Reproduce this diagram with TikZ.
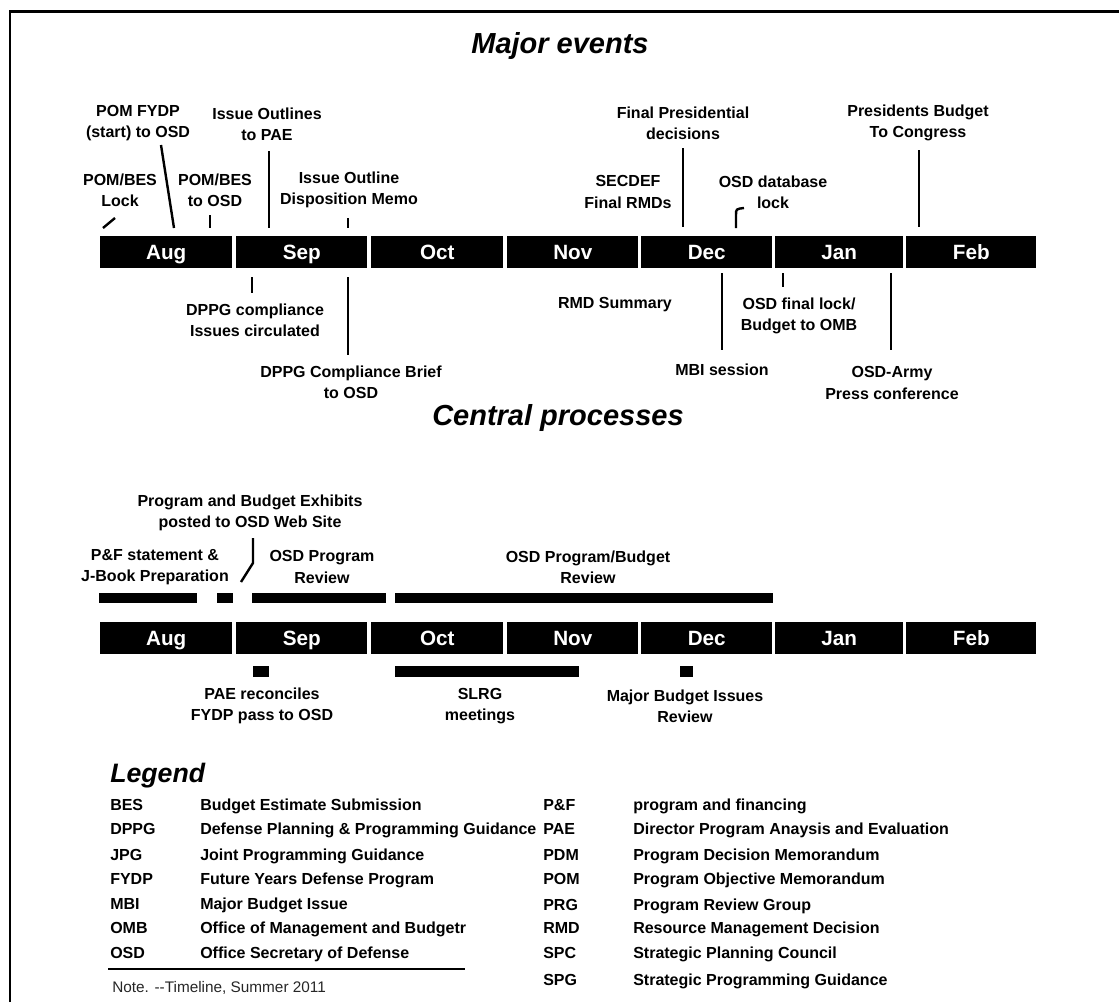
\documentclass[tikz,border=0pt]{standalone}
\usepackage{fontspec}
\setmainfont{Liberation Sans}
\begin{document}
\begin{tikzpicture}[x=0.75pt,y=-0.75pt,
  lbl/.style={font=\bfseries\fontsize{12}{15.8}\selectfont, align=center, inner sep=0pt},
  month/.style={fill=black, text=white, font=\bfseries\fontsize{15.5}{18}\selectfont, minimum height=24pt, inner sep=0pt, text height=11.1pt, text depth=0pt, anchor=west},
  tick/.style={line width=1.8pt},
  pbar/.style={fill=black},
  ttl/.style={font=\bfseries\itshape\fontsize{21.75}{26}\selectfont, inner sep=0pt},
  lgA/.style={font=\bfseries\fontsize{12}{14}\selectfont, anchor=west, inner sep=0pt, text height=8.6pt, text depth=0pt},
  frame/.style={line width=2.2pt}
]
\useasboundingbox (0,0) rectangle (1119,1002);
% frame
\coordinate (fbl) at (10,1002);
\coordinate (ftl) at (10,11.5);
\coordinate (ftr) at (1119,11.5);
\draw[frame] (fbl) -- (ftl) -- (ftr);

% titles
\node[ttl] (tMajor) at (560,46) {Major events};
\node[ttl] (tCentral) at (558,418) {Central processes};

% month bars
\foreach \m/\s/\w in {Aug/100/132, Sep/236/131, Oct/371/132, Nov/507/131, Dec/641/131, Jan/775/128, Feb/906/130} {
  \node[month, minimum width={\w pt*0.75}] (u\m) at (\s,252) {\m};
  \node[month, minimum width={\w pt*0.75}] (l\m) at (\s,638) {\m};
}

% ---- major events: labels above
\node[lbl] (ePOMFYDP) at (138,123.5) {POM FYDP\\(start) to OSD};
\node[lbl] (eIOPAE) at (267,124) {Issue Outlines\\to PAE};
\node[lbl] (ePOMLock) at (120,190) {POM/BES\\Lock};
\node[lbl] (ePOMOSD) at (215,190) {POM/BES\\to OSD};
\node[lbl] (eIODM) at (349,190) {Issue Outline\\Disposition Memo};
\node[lbl] (eFPD) at (683,123) {Final Presidential\\decisions};
\node[lbl] (eSEC) at (628,192) {SECDEF\\Final RMDs};
\node[lbl] (eDBL) at (773,192) {OSD database\\lock};
\node[lbl] (ePBC) at (918,123) {Presidents Budget\\To Congress};

% ---- major events: labels below
\node[lbl] (eDPPGc) at (255,320) {DPPG compliance\\Issues circulated};
\node[lbl] (eRMD) at (615,305) {RMD Summary};
\node[lbl] (eOFL) at (799,316) {OSD final lock/\\Budget to OMB};
\node[lbl] (eDPPGb) at (351,382) {DPPG Compliance Brief\\to OSD};
\node[lbl] (eMBI) at (722,370) {MBI session};
\node[lbl] (eArmy) at (892,383) {OSD-Army\\Press conference};

% ---- tick coordinates
\coordinate (k1a) at (103,228); \coordinate (k1b) at (115,218);
\coordinate (k2a) at (161,145); \coordinate (k2b) at (174,228);
\coordinate (k3a) at (210,215); \coordinate (k3b) at (210,228);
\coordinate (k4a) at (269,151); \coordinate (k4b) at (269,228);
\coordinate (k5a) at (348,218); \coordinate (k5b) at (348,228);
\coordinate (k6a) at (683,148); \coordinate (k6b) at (683,227);
\coordinate (k7a) at (736,228); \coordinate (k7b) at (736,215); \coordinate (k7c) at (744,208);
\coordinate (k8a) at (919,150); \coordinate (k8b) at (919,227);
\coordinate (k9a) at (252,277); \coordinate (k9b) at (252,293);
\coordinate (k10a) at (348,277); \coordinate (k10b) at (348,355);
\coordinate (k11a) at (722,273); \coordinate (k11b) at (722,350);
\coordinate (k12a) at (783,273); \coordinate (k12b) at (783,287);
\coordinate (k13a) at (891,273); \coordinate (k13b) at (891,350);

\draw[tick] (k1a) -- (k1b);
\draw[tick] (k2a) -- (k2b);
\draw[tick] (k3a) -- (k3b);
\draw[tick] (k4a) -- (k4b);
\draw[tick] (k5a) -- (k5b);
\draw[tick] (k6a) -- (k6b);
\draw[tick] (k7a) -- (k7b) .. controls (736,209) .. (k7c);
\draw[tick] (k8a) -- (k8b);
\draw[tick] (k9a) -- (k9b);
\draw[tick] (k10a) -- (k10b);
\draw[tick] (k11a) -- (k11b);
\draw[tick] (k12a) -- (k12b);
\draw[tick] (k13a) -- (k13b);

% ---- central processes
\node[lbl] (cPBE) at (250,513) {Program and Budget Exhibits\\posted to OSD Web Site};
\node[lbl] (cPF) at (155,567) {P\&F statement \&\\J-Book Preparation};
\node[lbl] (cOPR) at (322,567) {OSD Program\\Review};
\node[lbl] (cOPBR) at (588,567) {OSD Program/Budget\\Review};

\coordinate (p1a) at (253,538); \coordinate (p1b) at (253,563); \coordinate (p1c) at (241,582);
\draw[tick] (p1a) -- (p1b) -- (p1c);

\path[pbar] (99,593) rectangle (197,603);
\path[pbar] (217,593) rectangle (233,603);
\path[pbar] (252,593) rectangle (386,603);
\path[pbar] (395,593) rectangle (773,603);

\path[pbar] (253,666) rectangle (269,677);
\path[pbar] (395,666) rectangle (579,677);
\path[pbar] (680,666) rectangle (693,677);

\node[lbl] (cPAE) at (262,706) {PAE reconciles\\FYDP pass to OSD};
\node[lbl] (cSLRG) at (480,706) {SLRG\\meetings};
\node[lbl] (cMBIR) at (685,706) {Major Budget Issues\\Review};

% ---- legend
\node[font=\bfseries\itshape\fontsize{20}{24}\selectfont, inner sep=0pt, anchor=base west] (lgT) at (110,782) {Legend};
\foreach \a/\d/\y in {BES/Budget Estimate Submission/805,
  DPPG/Defense Planning \& Programming Guidance/829,
  JPG/Joint Programming Guidance/855,
  FYDP/Future Years Defense Program/879,
  MBI/Major Budget Issue/904,
  OMB/Office of Management and Budgetr/928,
  OSD/Office Secretary of Defense/953} {
  \node[lgA] at (110,\y) {\a};
  \node[lgA] at (200,\y) {\d};
}
\foreach \a/\d/\y in {P\&F/program and financing/805,
  PAE/Director Program Anaysis and Evaluation/829,
  PDM/Program Decision Memorandum/855,
  POM/Program Objective Memorandum/879,
  PRG/Program Review Group/905,
  RMD/Resource Management Decision/928,
  SPC/Strategic Planning Council/953,
  SPG/Strategic Programming Guidance/980} {
  \node[lgA] at (543,\y) {\a};
  \node[lgA] at (633,\y) {\d};
}
\coordinate (sepA) at (108,969); \coordinate (sepB) at (465,969);
\draw[line width=1.5pt] (sepA) -- (sepB);
\node[anchor=west, inner sep=0pt, text=black!85, font=\fontsize{11.5}{14}\selectfont] (note) at (112,988) {Note. -{}-Timeline, Summer 2011};
\end{tikzpicture}
\end{document}
